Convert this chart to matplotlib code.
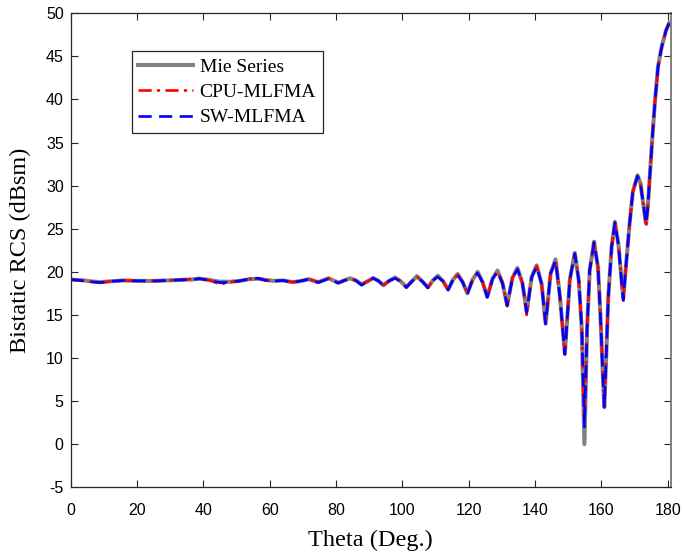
import matplotlib
matplotlib.use("Agg")
import matplotlib.pyplot as plt

plt.rcParams["axes.unicode_minus"] = False

# bistatic RCS (theta in deg, RCS in dBsm)
theta = [0.0, 3.0, 6.0, 9.0, 12.0, 16.0, 20.0, 26.0, 32.0, 36.0,
         39.0, 42.0, 45.0, 48.0, 51.0, 54.0, 56.5, 59.0, 61.5, 64.0,
         67.0, 69.5, 71.8, 74.6, 77.7, 80.7, 82.5, 84.2, 86.0, 87.7,
         89.5, 91.2, 92.8, 94.3, 96.0, 97.8, 99.5, 101.2, 103.0, 104.4,
         106.0, 107.7, 109.2, 110.7, 112.3, 113.8, 115.3, 116.7, 118.2, 119.6,
         121.2, 122.7, 124.2, 125.6, 127.2, 128.7, 130.2, 131.6, 133.2, 134.7,
         136.2, 137.5, 139.0, 140.5, 142.0, 143.2, 144.7, 146.2, 147.5, 149.0,
         150.5, 152.0, 153.2, 154.1, 154.9, 155.7, 156.5, 157.8, 159.0, 159.7,
         160.4, 160.9, 161.5, 162.1, 163.1, 164.1, 165.2, 166.0, 166.6, 167.5,
         168.5, 169.5, 170.9, 171.8, 172.6, 173.5, 174.0, 174.6, 175.4, 176.2,
         177.1, 178.2, 179.5, 180.5]

mie_rcs = [19.10, 19.05, 18.90, 18.80, 18.90, 19.00, 18.95, 18.95, 19.05, 19.10,
           19.20, 19.05, 18.85, 18.85, 18.95, 19.15, 19.20, 19.05, 18.95, 19.00,
           18.80, 18.95, 19.15, 18.80, 19.25, 18.75, 19.00, 19.25, 19.00, 18.55,
           18.90, 19.30, 18.95, 18.45, 18.95, 19.35, 18.90, 18.25, 18.95, 19.50,
           18.90, 18.20, 19.00, 19.55, 18.90, 17.95, 19.10, 19.75, 18.80, 17.50,
           19.10, 20.00, 18.80, 17.10, 19.20, 20.15, 18.70, 16.15, 19.30, 20.45,
           18.70, 15.40, 19.40, 20.75, 18.60, 14.00, 19.80, 21.45, 17.20, 10.50,
           19.10, 22.20, 19.00, 13.30, 0.00, 13.30, 20.20, 23.50, 20.50, 15.20,
           8.50, 4.30, 10.50, 17.10, 22.90, 25.80, 23.00, 19.50, 16.90, 21.00,
           25.50, 29.30, 31.20, 30.30, 28.00, 25.60, 27.50, 31.00, 35.70, 39.90,
           43.80, 46.10, 48.00, 48.90]

cpu_rcs = [19.10, 19.00, 18.85, 18.75, 18.90, 19.00, 18.95, 18.95, 19.05, 19.15,
           19.30, 19.00, 18.55, 18.80, 18.95, 19.20, 19.25, 19.00, 18.95, 19.00,
           18.80, 18.95, 19.15, 18.80, 19.25, 18.70, 19.00, 19.25, 19.00, 18.50,
           18.90, 19.25, 18.95, 18.45, 18.95, 19.30, 18.90, 18.15, 18.95, 19.40,
           18.90, 18.15, 19.00, 19.45, 18.90, 17.90, 19.10, 19.65, 18.80, 17.45,
           19.10, 19.90, 18.80, 17.00, 19.20, 20.05, 18.70, 16.00, 19.30, 20.35,
           18.70, 15.00, 19.40, 20.65, 18.60, 13.90, 19.80, 21.35, 17.20, 10.40,
           19.10, 22.10, 19.00, 13.50, 2.50, 13.50, 20.20, 23.40, 20.50, 15.20,
           8.60, 4.60, 10.50, 17.10, 22.90, 25.70, 23.00, 19.30, 16.50, 21.00,
           25.50, 29.30, 31.10, 30.30, 28.00, 25.20, 27.50, 31.00, 35.70, 39.90,
           43.80, 46.10, 48.00, 48.90]

sw_rcs = [19.10, 19.00, 18.85, 18.75, 18.90, 19.00, 18.95, 18.95, 19.05, 19.10,
          19.20, 19.00, 18.75, 18.80, 18.95, 19.20, 19.25, 19.00, 18.95, 19.00,
          18.80, 18.95, 19.15, 18.75, 19.20, 18.70, 19.00, 19.20, 19.00, 18.45,
          18.90, 19.25, 18.95, 18.40, 18.95, 19.25, 18.90, 18.20, 18.95, 19.35,
          18.90, 18.15, 19.00, 19.40, 18.90, 17.90, 19.10, 19.60, 18.80, 17.45,
          19.10, 19.85, 18.80, 17.05, 19.20, 20.00, 18.70, 16.10, 19.30, 20.30,
          18.70, 15.30, 19.40, 20.60, 18.60, 13.95, 19.80, 21.30, 17.20, 10.45,
          19.10, 22.10, 19.00, 13.50, 2.00, 13.50, 20.20, 23.40, 20.50, 15.20,
          8.50, 4.30, 10.50, 17.10, 22.90, 25.70, 23.00, 19.30, 16.70, 21.00,
          25.50, 29.30, 31.10, 30.30, 28.00, 25.60, 27.50, 31.00, 35.70, 39.90,
          43.80, 46.10, 48.00, 48.90]

x_ticks = [0, 20, 40, 60, 80, 100, 120, 140, 160, 180]
y_ticks = [-5, 0, 5, 10, 15, 20, 25, 30, 35, 40, 45, 50]

serif = ["Liberation Serif", "DejaVu Serif"]
sans = ["Liberation Sans", "DejaVu Sans"]

fig = plt.figure(figsize=(6.83, 5.58), dpi=100)
ax = fig.add_axes([0.1035, 0.1267, 0.8789, 0.8495])

ax.plot(theta, mie_rcs, color="#808080", lw=2.9, ls="-", label="Mie Series")
ax.plot(theta, cpu_rcs, color="#ff0000", lw=1.9, ls=(0, (5, 2, 1.2, 2)),
        label="CPU-MLFMA")
ax.plot(theta, sw_rcs, color="#0000ff", lw=1.9, ls=(0, (5, 2.8)),
        label="SW-MLFMA")

ax.set_xlim(0, 181)
ax.set_ylim(-5, 50)
ax.set_xticks(x_ticks)
ax.set_yticks(y_ticks)
ax.tick_params(direction="in", top=True, right=True, length=5, width=0.8,
               color="#262626", labelsize=11.5, labelcolor="black")
ax.tick_params(axis="x", pad=11)
ax.tick_params(axis="y", pad=5)
for lbl in ax.get_xticklabels() + ax.get_yticklabels():
    lbl.set_family(sans)

for side in ["left", "bottom", "top"]:
    ax.spines[side].set_color("#262626")
    ax.spines[side].set_linewidth(0.9)
ax.spines["right"].set_color("#808080")
ax.spines["right"].set_linewidth(1.4)

ax.set_xlabel("Theta (Deg.)", family=serif, fontsize=17.5, labelpad=9)
ax.set_ylabel("Bistatic RCS (dBsm)", family=serif, fontsize=17.5, labelpad=11)

leg = ax.legend(loc="upper left", bbox_to_anchor=(0.1016, 0.92),
                borderaxespad=0, fancybox=False, framealpha=1,
                prop={"family": serif, "size": 14}, handlelength=2.8,
                handletextpad=0.35, borderpad=0.35, labelspacing=0.4)
leg.get_frame().set_edgecolor("#262626")
leg.get_frame().set_linewidth(0.9)

fig.savefig("out.png", dpi=100)
